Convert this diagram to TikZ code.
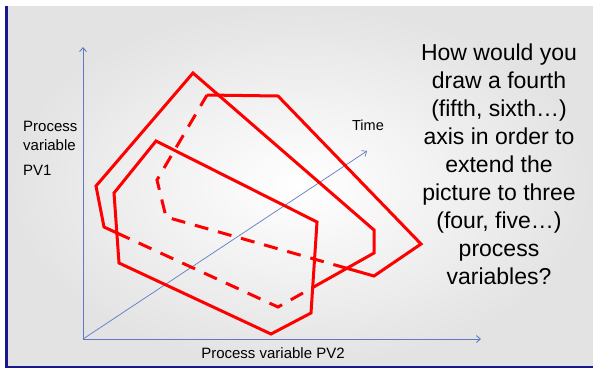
\documentclass[tikz,border=0pt]{standalone}
\usepackage{fontspec}
\setmainfont{Liberation Sans}
\usetikzlibrary{arrows.meta}
\definecolor{slidenavy}{RGB}{24,24,140}
\definecolor{axisblue}{RGB}{98,120,196}
\definecolor{pvred}{RGB}{255,0,0}

\begin{document}
\begin{tikzpicture}[x=1pt,y=-1pt,
  pv/.style={draw=pvred,line width=3pt},
  hid/.style={pv,dash pattern=on 14pt off 10pt},
  axis/.style={-{Straight Barb[length=4pt,width=7pt]},draw=axisblue,line width=0.9pt},
  lbl/.style={font=\fontsize{15}{18.5}\selectfont,inner sep=0pt}]
  \useasboundingbox (0,0) rectangle (593,368);
  % slide background
  \fill[white] (0,0) rectangle (593,368);
  \shade[inner color=white,outer color=black!11] (8,6) rectangle (593,365);
  \fill[slidenavy] (5,6) rectangle (8,368);
  \fill[slidenavy] (5,365.5) rectangle (593,368);
  % axes
  \coordinate (o) at (83,339);
  \coordinate (ytip) at (83,47);
  \coordinate (xtip) at (481,339);
  \coordinate (ttip) at (367,151);
  \draw[axis] (o) -- (ytip);
  \draw[axis] (o) -- (xtip);
  \draw[axis,line width=0.7pt] (o) -- (ttip);
  % corners of the three regions
  \coordinate (a1) at (193,73);  \coordinate (a2) at (374,230);
  \coordinate (a3) at (374,253); \coordinate (a4) at (278,307);
  \coordinate (a5) at (104,227); \coordinate (a6) at (96,186);
  \coordinate (b1) at (156,141); \coordinate (b2) at (317,222);
  \coordinate (b3) at (311,313); \coordinate (b4) at (271,334);
  \coordinate (b5) at (119,263); \coordinate (b6) at (114,193);
  \coordinate (c1) at (207,95);  \coordinate (c2) at (278,96);
  \coordinate (c3) at (421,244); \coordinate (c4) at (374,276);
  \coordinate (c5) at (166,217); \coordinate (c6) at (157,180);
  % where hidden edges start
  \coordinate (a5x) at (intersection of a5--a4 and b6--b5);
  \coordinate (a4x) at (intersection of a4--a3 and b2--b3);
  \coordinate (c4x) at (intersection of c4--c5 and a3--a4);
  % back region
  \draw[pv] (c1) -- (c2) -- (c3) -- (c4) -- (c4x);
  \draw[hid] (c4x) -- (c5) -- (c6) -- (c1);
  % middle region
  \draw[pv] (a4x) -- (a3) -- (a2) -- (a1) -- (a6) -- (a5) -- (a5x);
  \draw[hid] (a5x) -- (a4) -- (a4x);
  % front region
  \draw[pv] (b1) -- (b2) -- (b3) -- (b4) -- (b5) -- (b6) -- cycle;
  % labels
  \node[lbl,anchor=north west,align=left] (pv1lbl) at (23,121) {Process\\variable\\[7pt]PV1};
  \node[lbl] (pv2lbl) at (273,353) {Process variable PV2};
  \node[lbl,font=\fontsize{14.5}{17}\selectfont] (timelbl) at (368,125) {Time};
  \node[font=\fontsize{23}{28}\selectfont,align=center] (question) at (499,164)
    {How would you\\draw a fourth\\(fifth, sixth…)\\axis in order to\\extend the\\picture to three\\(four, five…)\\process\\variables?};
\end{tikzpicture}
\end{document}
